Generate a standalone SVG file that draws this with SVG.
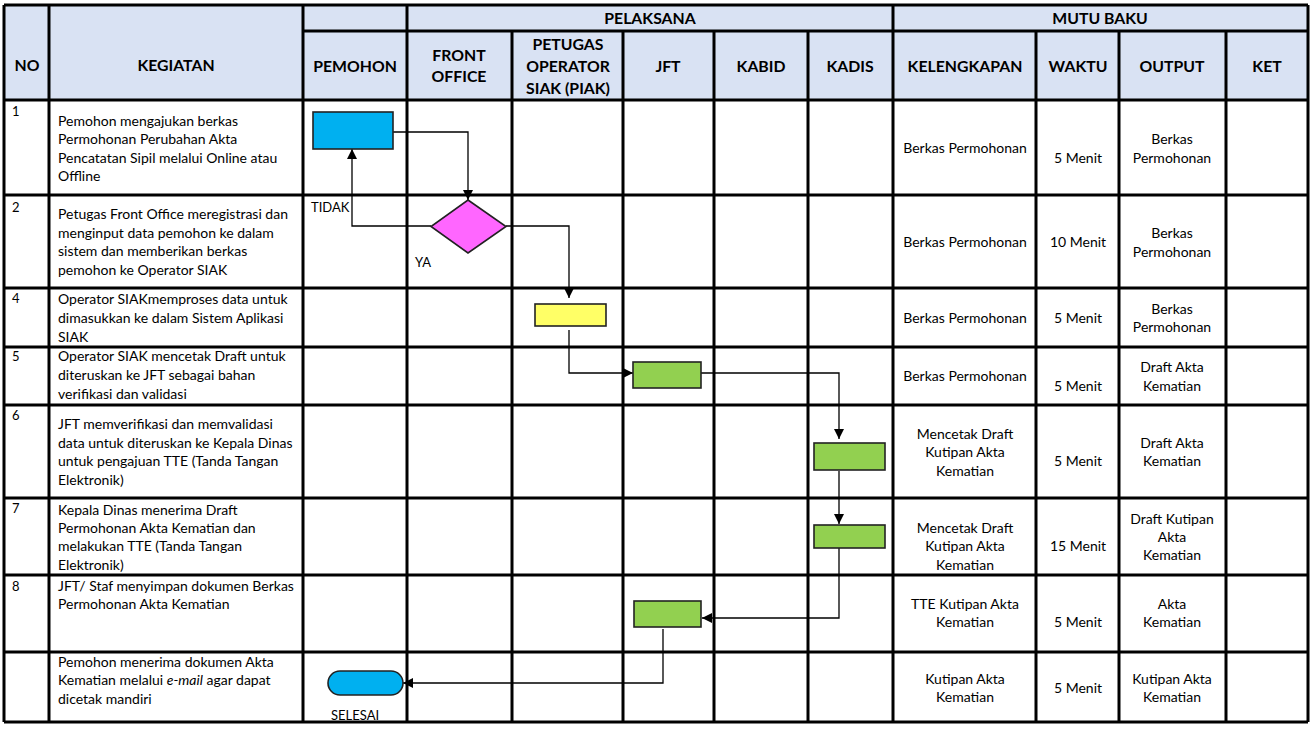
<svg xmlns="http://www.w3.org/2000/svg" width="1314" height="729" viewBox="0 0 1314 729">
<style>
text{font-family:Lato,"Liberation Sans",sans-serif;fill:#000}
.h{font-size:15.8px;font-weight:bold;text-anchor:middle}
.t{font-size:14px}
.c{font-size:14px;text-anchor:middle}
.n{font-size:13px}
.g{stroke:#000;stroke-width:3;fill:none}
.box{stroke:#222;stroke-width:1.6}
.con{stroke:#000;stroke-width:1.3;fill:none}
</style>
<defs>
<marker id="ah" viewBox="0 0 10 10" refX="10" refY="5" markerWidth="10" markerHeight="10" markerUnits="userSpaceOnUse" orient="auto">
<path d="M0,0 L10,5 L0,10 z" fill="#000"/>
</marker>
</defs>
<rect x="0" y="0" width="1314" height="729" fill="#fff"/>
<g id="header">
<rect x="4" y="5" width="1304" height="95" fill="#D9E2F3"/>
<text class="h" x="27" y="71">NO</text>
<text class="h" x="176" y="71">KEGIATAN</text>
<text class="h" x="650" y="24">PELAKSANA</text>
<text class="h" x="1100" y="24">MUTU BAKU</text>
<text class="h" x="355" y="72">PEMOHON</text>
<text class="h" x="459" y="61">FRONT</text>
<text class="h" x="459" y="82">OFFICE</text>
<text class="h" x="568" y="50">PETUGAS</text>
<text class="h" x="568" y="72">OPERATOR</text>
<text class="h" x="568" y="94">SIAK (PIAK)</text>
<text class="h" x="668" y="72">JFT</text>
<text class="h" x="761" y="72">KABID</text>
<text class="h" x="850" y="72">KADIS</text>
<text class="h" x="965" y="72">KELENGKAPAN</text>
<text class="h" x="1078" y="72">WAKTU</text>
<text class="h" x="1172" y="72">OUTPUT</text>
<text class="h" x="1267" y="72">KET</text>
</g>
<g id="grid" class="g">
<path d="M4,5H1308M303,31H1308M4,100H1308M4,195H1308M4,288H1308M4,347H1308M4,405H1308M4,498H1308M4,575H1308M4,652H1308M4,722H1308"/>
<path d="M4,5V722M49,5V722M303,5V722M407,5V722M893,5V722M1308,5V722M512,31V722M623,31V722M714,31V722M808,31V722M1036,31V722M1119,31V722M1226,31V722"/>
</g>
<g id="row1">
<text class="n" x="12" y="116">1</text>
<text class="t" x="58" y="126">Pemohon mengajukan berkas</text>
<text class="t" x="58" y="144">Permohonan Perubahan Akta</text>
<text class="t" x="58" y="163">Pencatatan Sipil melalui Online atau</text>
<text class="t" x="58" y="181">Offline</text>
<text class="c" x="965" y="153">Berkas Permohonan</text>
<text class="c" x="1078" y="163">5 Menit</text>
<text class="c" x="1172" y="144">Berkas</text>
<text class="c" x="1172" y="163">Permohonan</text>
</g>
<g id="row2">
<text class="n" x="12" y="212">2</text>
<text class="t" x="58" y="219">Petugas Front Office meregistrasi dan</text>
<text class="t" x="58" y="238">menginput data pemohon ke dalam</text>
<text class="t" x="58" y="256">sistem dan memberikan berkas</text>
<text class="t" x="58" y="275">pemohon ke Operator SIAK</text>
<text class="c" x="965" y="247">Berkas Permohonan</text>
<text class="c" x="1078" y="247">10 Menit</text>
<text class="c" x="1172" y="238">Berkas</text>
<text class="c" x="1172" y="257">Permohonan</text>
</g>
<g id="row4">
<text class="n" x="12" y="303">4</text>
<text class="t" x="58" y="304">Operator SIAKmemproses data untuk</text>
<text class="t" x="58" y="323">dimasukkan ke dalam Sistem Aplikasi</text>
<text class="t" x="58" y="342">SIAK</text>
<text class="c" x="965" y="323">Berkas Permohonan</text>
<text class="c" x="1078" y="323">5 Menit</text>
<text class="c" x="1172" y="314">Berkas</text>
<text class="c" x="1172" y="332">Permohonan</text>
</g>
<g id="row5">
<text class="n" x="12" y="361">5</text>
<text class="t" x="58" y="361">Operator SIAK mencetak Draft untuk</text>
<text class="t" x="58" y="380">diteruskan ke JFT sebagai bahan</text>
<text class="t" x="58" y="399">verifikasi dan validasi</text>
<text class="c" x="965" y="381">Berkas Permohonan</text>
<text class="c" x="1078" y="391">5 Menit</text>
<text class="c" x="1172" y="372">Draft Akta</text>
<text class="c" x="1172" y="391">Kematian</text>
</g>
<g id="row6">
<text class="n" x="12" y="420">6</text>
<text class="t" x="58" y="429">JFT memverifikasi dan memvalidasi</text>
<text class="t" x="58" y="448">data untuk diteruskan ke Kepala Dinas</text>
<text class="t" x="58" y="466">untuk pengajuan TTE (Tanda Tangan</text>
<text class="t" x="58" y="485">Elektronik)</text>
<text class="c" x="965" y="439">Mencetak Draft</text>
<text class="c" x="965" y="457">Kutipan Akta</text>
<text class="c" x="965" y="476">Kematian</text>
<text class="c" x="1078" y="466">5 Menit</text>
<text class="c" x="1172" y="448">Draft Akta</text>
<text class="c" x="1172" y="466">Kematian</text>
</g>
<g id="row7">
<text class="n" x="12" y="513">7</text>
<text class="t" x="58" y="515">Kepala Dinas menerima Draft</text>
<text class="t" x="58" y="533">Permohonan Akta Kematian dan</text>
<text class="t" x="58" y="551">melakukan TTE (Tanda Tangan</text>
<text class="t" x="58" y="570">Elektronik)</text>
<text class="c" x="965" y="533">Mencetak Draft</text>
<text class="c" x="965" y="551">Kutipan Akta</text>
<text class="c" x="965" y="570">Kematian</text>
<text class="c" x="1078" y="551">15 Menit</text>
<text class="c" x="1172" y="524">Draft Kutipan</text>
<text class="c" x="1172" y="542">Akta</text>
<text class="c" x="1172" y="560">Kematian</text>
</g>
<g id="row8">
<text class="n" x="12" y="591">8</text>
<text class="t" x="58" y="591">JFT/ Staf menyimpan dokumen Berkas</text>
<text class="t" x="58" y="609">Permohonan Akta Kematian</text>
<text class="c" x="965" y="609">TTE Kutipan Akta</text>
<text class="c" x="965" y="627">Kematian</text>
<text class="c" x="1078" y="627">5 Menit</text>
<text class="c" x="1172" y="609">Akta</text>
<text class="c" x="1172" y="627">Kematian</text>
</g>
<g id="row9">
<text class="t" x="58" y="667">Pemohon menerima dokumen Akta</text>
<text class="t" x="58" y="685">Kematian melalui <tspan font-style="italic">e-mail</tspan> agar dapat</text>
<text class="t" x="58" y="704">dicetak mandiri</text>
<text class="c" x="965" y="684">Kutipan Akta</text>
<text class="c" x="965" y="702">Kematian</text>
<text class="c" x="1078" y="693">5 Menit</text>
<text class="c" x="1172" y="684">Kutipan Akta</text>
<text class="c" x="1172" y="702">Kematian</text>
</g>
<g id="connectors" class="con">
<path d="M393,132H468V200" marker-end="url(#ah)"/>
<path d="M431,226H352V149" marker-end="url(#ah)"/>
<path d="M506,226H569V298" marker-end="url(#ah)"/>
<path d="M569,330V373H633" marker-end="url(#ah)"/>
<path d="M701,373H839V439" marker-end="url(#ah)"/>
<path d="M839,471V524" marker-end="url(#ah)"/>
<path d="M839,548V618H702" marker-end="url(#ah)"/>
<path d="M663,629V683H403" marker-end="url(#ah)"/>
</g>
<g id="n-start">
<rect class="box" x="313" y="112" width="80" height="37" fill="#00B0F0"/>
</g>
<g id="n-decision">
<polygon class="box" points="468,200 506,226.5 468,253 431,226.5" fill="#FF66FF"/>
<text class="n" x="311" y="212">TIDAK</text>
<text class="n" x="415" y="267">YA</text>
</g>
<g id="n-siak">
<rect class="box" x="535" y="304" width="71" height="22" fill="#FFFF66"/>
</g>
<g id="n-jft1">
<rect class="box" x="633" y="362" width="68" height="26" fill="#92D050"/>
</g>
<g id="n-kadis1">
<rect class="box" x="814" y="443" width="71" height="27" fill="#92D050"/>
</g>
<g id="n-kadis2">
<rect class="box" x="814" y="525" width="71" height="23" fill="#92D050"/>
</g>
<g id="n-jft2">
<rect class="box" x="634" y="601" width="67" height="26" fill="#92D050"/>
</g>
<g id="n-end">
<rect class="box" x="328" y="671" width="75" height="24" rx="12" ry="12" fill="#00B0F0"/>
<text class="n" x="331" y="720" font-size="12">SELESAI</text>
</g>
</svg>
